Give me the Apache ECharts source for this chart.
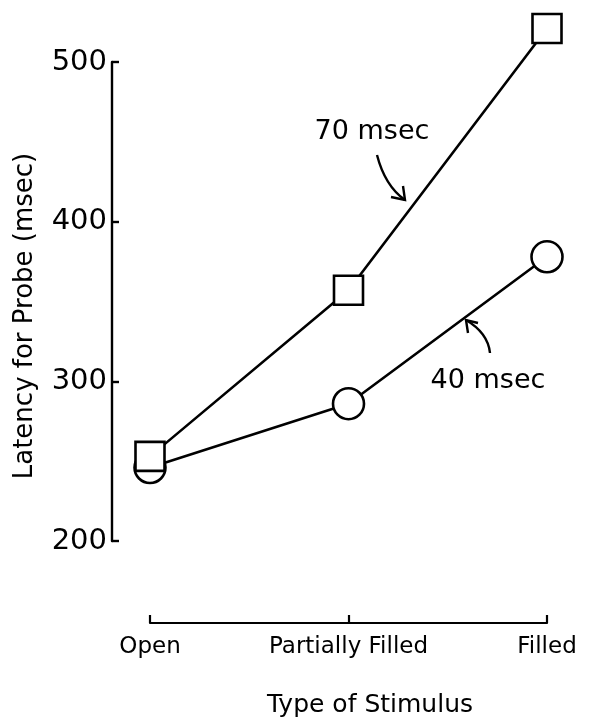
<!DOCTYPE html>
<html>
<head>
<meta charset="utf-8">
<script src="https://cdn.jsdelivr.net/npm/echarts@6/dist/echarts.min.js"></script>
<style>
html,body{margin:0;padding:0;background:#fff;}
#chart{width:589px;height:723px;}
</style>
</head>
<body>
<div id="chart"></div>
<script>
// ---- data ----
const categories = ['Open', 'Partially Filled', 'Filled'];
const latency70 = [253, 357, 521];
const latency40 = [246, 286, 378];
const yMin = 200, yMax = 500, yStep = 100;
const yTitle = 'Latency for Probe (msec)';
const xTitle = 'Type of Stimulus';
const label70 = '70 msec';
const label40 = '40 msec';

const FONT = 'DejaVu Sans';
const chart = echarts.init(document.getElementById('chart'), null, {renderer: 'canvas'});

const lineStyle = {color: '#000', width: 2.6};
const markerStyle = {color: '#fff', borderColor: '#000', borderWidth: 2.6};

chart.setOption({
  animation: false,
  backgroundColor: '#fff',
  grid: {left: 150, right: 42, top: 62, bottom: 182},
  xAxis: {
    type: 'category',
    data: categories,
    boundaryGap: false,
    offset: 82,
    axisLine: {show: true, lineStyle: {color: '#000', width: 2.2}},
    axisTick: {show: true, inside: true, length: 8, interval: 0, alignWithLabel: true, lineStyle: {color: '#000', width: 2.2}},
    axisLabel: {color: '#000', fontFamily: FONT, fontSize: 23, margin: 13, interval: 0, hideOverlap: false},
    splitLine: {show: false}
  },
  yAxis: {
    type: 'value',
    min: yMin, max: yMax, interval: yStep,
    offset: 38,
    axisLine: {show: true, lineStyle: {color: '#000', width: 2.4}},
    axisTick: {show: true, inside: true, length: 7, lineStyle: {color: '#000', width: 2.4}},
    axisLabel: {color: '#000', fontFamily: FONT, fontSize: 29, margin: 5},
    splitLine: {show: false}
  },
  series: [
    {
      name: label40, type: 'line', data: latency40, clip: false,
      symbol: 'circle', symbolSize: 31,
      lineStyle: lineStyle, itemStyle: markerStyle, z: 2
    },
    {
      name: label70, type: 'line', data: latency70, clip: false,
      symbol: 'rect', symbolSize: 29,
      lineStyle: lineStyle, itemStyle: markerStyle, z: 3
    }
  ],
  graphic: [
    {type: 'text', x: 25, y: 316, rotation: Math.PI / 2,
     style: {text: yTitle, font: '26px "DejaVu Sans"', fill: '#000', textAlign: 'center', textVerticalAlign: 'middle'}},
    {type: 'text', x: 370, y: 705,
     style: {text: xTitle, font: '25px "DejaVu Sans"', fill: '#000', textAlign: 'center', textVerticalAlign: 'middle'}},
    {type: 'text', x: 372, y: 132,
     style: {text: label70, font: '27px "DejaVu Sans"', fill: '#000', textAlign: 'center', textVerticalAlign: 'middle'}},
    {type: 'text', x: 488, y: 381,
     style: {text: label40, font: '27px "DejaVu Sans"', fill: '#000', textAlign: 'center', textVerticalAlign: 'middle'}},
    {type: 'bezierCurve', shape: {x1: 377, y1: 155, cpx1: 385, cpy1: 186, x2: 405, y2: 200},
     style: {stroke: '#000', lineWidth: 2.4, fill: null}},
    {type: 'polyline', shape: {points: [[403, 186], [405, 200], [391, 197]]},
     style: {stroke: '#000', lineWidth: 2.4, fill: null}},
    {type: 'bezierCurve', shape: {x1: 490, y1: 353, cpx1: 488, cpy1: 333, x2: 466, y2: 320},
     style: {stroke: '#000', lineWidth: 2.4, fill: null}},
    {type: 'polyline', shape: {points: [[468, 333], [466, 320], [478, 323]]},
     style: {stroke: '#000', lineWidth: 2.4, fill: null}}
  ]
});
</script>
</body>
</html>
